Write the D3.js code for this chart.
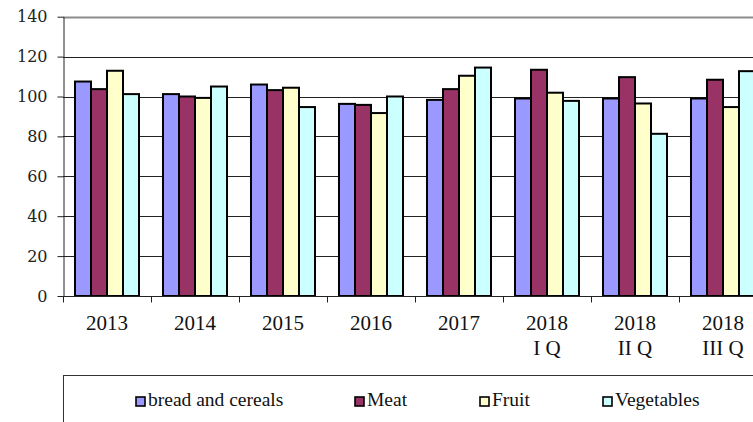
<!DOCTYPE html>
<html>
<head>
<meta charset="utf-8">
<script src="https://cdn.jsdelivr.net/npm/d3@7"></script>
<style>
  body { margin: 0; background: #fff; }
  svg { display: block; }
</style>
</head>
<body>
<script>
// chart data
var categories = ['2013', '2014', '2015', '2016', '2017', '2018|I Q', '2018|II Q', '2018|III Q'];
var series_names = ['bread and cereals', 'Meat', 'Fruit', 'Vegetables'];
var bread_vals = [107.5, 101.2, 106.0, 96.3, 98.3, 99.0, 99.0, 99.0];
var meat_vals = [103.7, 100.0, 103.2, 95.8, 103.7, 113.4, 109.7, 108.4];
var fruit_vals = [112.9, 99.3, 104.4, 91.7, 110.4, 101.9, 96.5, 94.7];
var veg_vals = [101.2, 105.0, 94.7, 100.0, 114.5, 97.8, 81.3, 112.7];
var y_ticks = [0, 20, 40, 60, 80, 100, 120, 140];

var colors = ['#9999ff', '#993366', '#ffffcc', '#ccffff'];
var all_vals = [bread_vals, meat_vals, fruit_vals, veg_vals];

var width = 753, height = 422;
var left = 63, top_y = 16.7, bottom_y = 296;
var cat_step = 88;

var svg = d3.select('body').append('svg')
    .attr('width', width)
    .attr('height', height);

// scales
var x0 = d3.scaleBand().domain(categories)
    .range([left, left + cat_step * categories.length])
    .padding(0);
var x1 = d3.scaleBand().domain(series_names)
    .range([0, x0.bandwidth()])
    .paddingInner(0).paddingOuter(0.75);
var y = d3.scaleLinear().domain([0, 140]).range([bottom_y, top_y]);

// gridlines
svg.append('g').selectAll('line')
  .data(y_ticks.filter(d => d > 0))
  .enter().append('line')
    .attr('x1', left).attr('x2', width)
    .attr('y1', d => Math.round(y(d)) + 0.5)
    .attr('y2', d => Math.round(y(d)) + 0.5)
    .attr('stroke', d => d == 140 ? '#8c8c8c' : '#222')
    .attr('stroke-width', d => d == 140 ? 2 : 1);

// bars
var table = [];
categories.forEach((c, i) => {
  series_names.forEach((s, j) => {
    table.push({cat: c, name: s, value: all_vals[j][i], color: colors[j]});
  });
});

svg.append('g').selectAll('rect')
  .data(table)
  .enter().append('rect')
    .attr('x', d => x0(d.cat) + x1(d.name))
    .attr('y', d => y(d.value))
    .attr('width', x1.bandwidth())
    .attr('height', d => y(0) - y(d.value))
    .attr('fill', d => d.color)
    .attr('stroke', '#000')
    .attr('stroke-width', 2);

// y axis
var yaxis = svg.append('g')
    .attr('transform', 'translate(' + (left + 0.5) + ',0)')
    .call(d3.axisLeft(y).tickValues(y_ticks).tickSize(6).tickPadding(10).tickSizeOuter(0));
yaxis.select('.domain').attr('stroke', '#222');
yaxis.selectAll('.tick line').attr('stroke', '#222');
yaxis.selectAll('text')
    .attr('font-family', '"DejaVu Serif", serif')
    .attr('font-size', 16)
    .attr('fill', '#222');

// x axis
var xaxis = svg.append('g')
    .attr('transform', 'translate(0,' + (Math.round(bottom_y) + 0.5) + ')');
xaxis.append('line')
    .attr('x1', left).attr('x2', width)
    .attr('stroke', '#222');
var ticks_x = categories.map(c => x0(c));
xaxis.selectAll('.xt').data(ticks_x)
  .enter().append('line')
    .attr('class', 'xt')
    .attr('x1', d => Math.round(d) + 0.5).attr('x2', d => Math.round(d) + 0.5)
    .attr('y1', 0).attr('y2', 6)
    .attr('stroke', '#222');

var xlab = svg.append('g').selectAll('text')
  .data(categories)
  .enter().append('text')
    .attr('text-anchor', 'middle')
    .attr('font-family', '"Liberation Serif", serif')
    .attr('font-size', 21)
    .attr('fill', '#111')
    .attr('x', d => x0(d) + x0.bandwidth() / 2)
    .attr('y', 330);
xlab.each(function(d) {
  var parts = d.split('|');
  var t = d3.select(this);
  parts.forEach((p, i) => {
    t.append('tspan')
      .attr('x', x0(d) + x0.bandwidth() / 2)
      .attr('dy', i == 0 ? 0 : 25)
      .text(p);
  });
});

// legend box
svg.append('rect')
    .attr('x', left + 0.5).attr('y', 375.5)
    .attr('width', 800).attr('height', 100)
    .attr('fill', 'none')
    .attr('stroke', '#333');

var legend_x = [136, 355, 480, 603];
var leg = svg.append('g').selectAll('g')
  .data(series_names)
  .enter().append('g')
    .attr('transform', (d, i) => 'translate(' + legend_x[i] + ',397)');
leg.append('rect')
    .attr('width', 9).attr('height', 9)
    .attr('fill', (d, i) => colors[i])
    .attr('stroke', '#000')
    .attr('stroke-width', 1.6);
leg.append('text')
    .attr('x', 12).attr('y', 9)
    .attr('font-family', '"Liberation Serif", serif')
    .attr('font-size', 19.5)
    .attr('fill', '#111')
    .text(d => d);
</script>
</body>
</html>
